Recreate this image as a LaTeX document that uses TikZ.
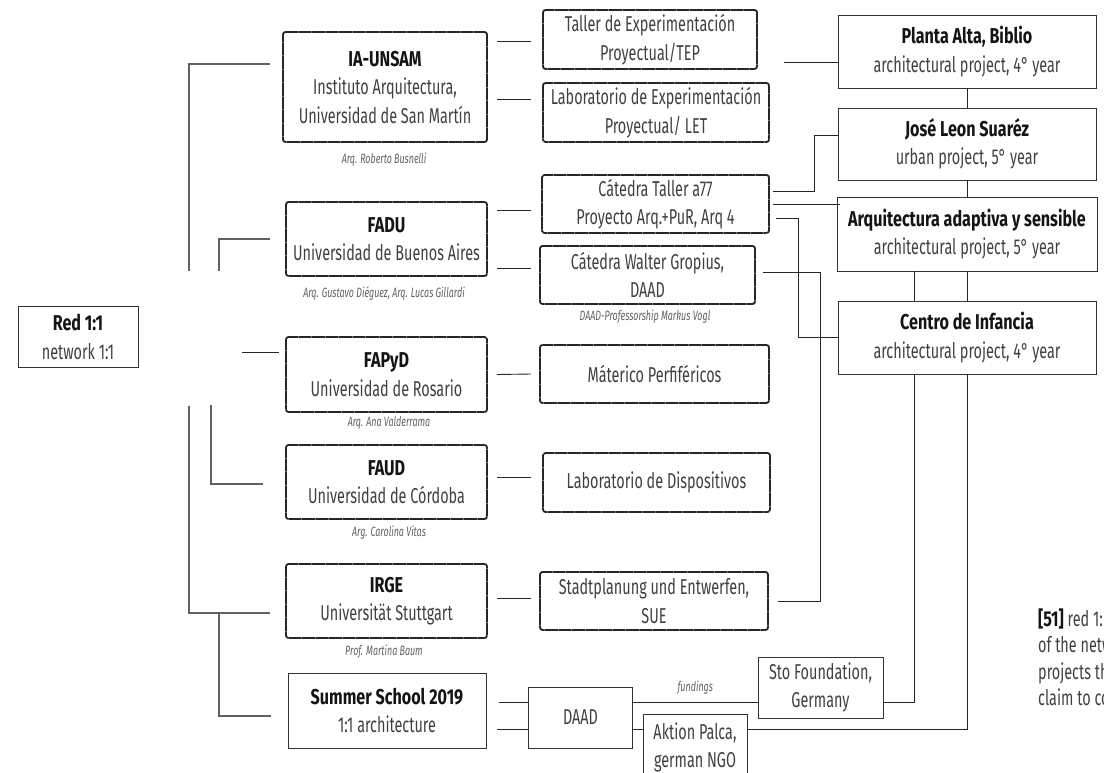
\documentclass[tikz,border=0pt]{standalone}
\usepackage{fontspec}
\setmainfont{Fira Sans}[FakeStretch=0.67]
\newfontfamily\ttlfam{Fira Sans}[FakeStretch=0.75]
\newfontfamily\capfam{Fira Sans}[FakeStretch=0.66]
\usetikzlibrary{calc}
\newcommand{\bodyfont}{\fontsize{21.5}{28.5}\selectfont}
\newcommand{\capfont}{\capfam\fontsize{13.5}{15}\selectfont\itshape}
\newcommand{\ttl}[1]{\textcolor{black!92}{\ttlfam\bfseries #1}}
\begin{document}
\begin{tikzpicture}[x=1pt,y=-1pt,
  plainbox/.style={draw=black!80, line width=0.8pt, inner sep=0pt, align=center, text=black!75, font=\bodyfont},
  texbox/.style={draw=black!85, line width=1.8pt, dash pattern=on 2.4pt off 0.3pt, rounded corners=2.5pt, inner sep=0pt, align=center, text=black!75, font=\bodyfont},
  conn/.style={draw=black!85, line width=0.9pt},
  lconn/.style={draw=black!62, line width=1.1pt},
  captxt/.style={font=\capfont, text=black!62, inner sep=0pt},
  sidetxt/.style={font=\fontsize{21.5}{26.5}\selectfont, text=black!75, inner sep=0pt, align=left}]
\useasboundingbox (0,0) rectangle (1104,772);

% left column
\node[plainbox, minimum width=120pt, minimum height=61pt] (red) at (78,337) {\ttl{Red 1:1}\\network 1:1};

% institutions
\node[texbox, minimum width=204pt, minimum height=110pt] (ia) at (385,87) {\ttl{IA-UNSAM}\\Instituto Arquitectura,\\Universidad de San Martín};
\node[texbox, minimum width=201pt, minimum height=74pt] (fadu) at (386.5,239) {\ttl{FADU}\\Universidad de Buenos Aires};
\node[texbox, minimum width=201pt, minimum height=75pt] (fapyd) at (386.5,374.5) {\ttl{FAPyD}\\Universidad de Rosario};
\node[texbox, minimum width=201pt, minimum height=74pt] (faud) at (386.5,482) {\ttl{FAUD}\\Universidad de Córdoba};
\node[texbox, minimum width=201pt, minimum height=74pt] (irge) at (386.5,601) {\ttl{IRGE}\\Universität Stuttgart};
\node[plainbox, minimum width=198pt, minimum height=75pt] (summer) at (387,710.5) {\ttl{Summer School 2019}\\1:1 architecture};

% captions
\node[captxt] (c1) at (384,160) {Arq. Roberto Busnelli};
\node[captxt] (c2) at (384,294) {Arq. Gustavo Diéguez, Arq. Lucas Gillardi};
\node[captxt] (c3) at (389,423) {Arq. Ana Valderrama};
\node[captxt] (c4) at (389,533) {Arg. Carolina Vitas};
\node[captxt] (c5) at (384,652) {Prof. Martina Baum};
\node[captxt] (c6) at (645,317) {DAAD-Professorship Markus Vogl};

% chairs
\node[texbox, minimum width=214pt, minimum height=59pt] (taller) at (650,39.5) {Taller de Experimentación\\Proyectual/TEP};
\node[texbox, minimum width=226pt, minimum height=59pt] (lab) at (656,112.5) {Laboratorio de Experimentación\\Proyectual/ LET};
\node[texbox, minimum width=227pt, minimum height=58pt] (cat) at (655.5,204) {Cátedra Taller a77\\Proyecto Arq.+PuR, Arq 4};
\node[texbox, minimum width=215pt, minimum height=58pt] (walter) at (647.5,275) {Cátedra Walter Gropius,\\DAAD};
\node[texbox, minimum width=229pt, minimum height=58pt] (mat) at (654.5,374) {Máterico Perfiféricos};
\node[texbox, minimum width=227pt, minimum height=59pt] (labd) at (656.5,482.5) {Laboratorio de Dispositivos};
\node[texbox, minimum width=228pt, minimum height=58pt] (sue) at (654,601) {Stadtplanung und Entwerfen,\\SUE};

% projects
\node[plainbox, minimum width=258pt, minimum height=73pt] (planta) at (967,51.5) {\ttl{Planta Alta, Biblio}\\architectural project, 4° year};
\node[plainbox, minimum width=258pt, minimum height=72pt] (jose) at (967,144) {\ttl{José Leon Suaréz}\\urban project, 5° year};
\node[plainbox, minimum width=260pt, minimum height=74pt] (arq) at (967,234) {\ttl{Arquitectura adaptiva y sensible}\\architectural project, 5° year};
\node[plainbox, minimum width=258pt, minimum height=73pt] (centro) at (967,337.5) {\ttl{Centro de Infancia}\\architectural project, 4° year};

% funding
\node[plainbox, minimum width=125pt, minimum height=61pt] (sto) at (820.5,687.5) {Sto Foundation,\\Germany};
\node[plainbox, minimum width=104pt, minimum height=61pt] (daad) at (580.5,717.5) {DAAD};
\node[plainbox, minimum width=104pt, minimum height=67pt] (akt) at (695,747.5) {Aktion Palca,\\german NGO};

% side text
\node[sidetxt, anchor=west] (side) at (1038,657.5) {\ttl{[51]} red 1:\\of the netw\\projects th\\claim to co};

% left connectors
\coordinate (cA1) at (189,271);
\coordinate (cA2) at (189,406);
\coordinate (cB1) at (219,271);
\coordinate (cB2) at (219,613);
\coordinate (cC1) at (211,405);
\draw[lconn] ([xshift=-12pt,yshift=23pt]ia.west) -| (cA1);
\draw[lconn] ([xshift=-15pt]fadu.west) -| (cB1);
\draw[conn] ([xshift=-6pt,yshift=22.5pt]fapyd.west) -- ++(-37pt,0);
\draw[lconn] ([xshift=-22pt,yshift=-2pt]faud.west) -| (cC1);
\draw[lconn] ([xshift=-15pt,yshift=-12pt]irge.west) -| (cA2);
\draw[lconn] ([xshift=-17pt,yshift=-5.5pt]summer.west) -| (cB2);

% institution -> chair
\draw[conn] ([xshift=9pt,yshift=46pt]ia.east) -- ([xshift=-11pt,yshift=-1.5pt]taller.west);
\draw[conn] ([xshift=9pt,yshift=-12pt]ia.east) -- ([xshift=-11pt,yshift=13.5pt]lab.west);
\draw[conn] ([xshift=9pt,yshift=29pt]fadu.east) -- ([xshift=-10pt,yshift=-6pt]cat.west);
\draw[conn] ([xshift=9pt,yshift=-29pt]fadu.east) -- ([xshift=-8pt,yshift=7pt]walter.west);
\draw[conn] ([xshift=9pt]fapyd.east) -- ([xshift=-8pt]mat.west);
\draw[conn] ([xshift=9pt,yshift=5pt]faud.east) -- ([xshift=-11pt,yshift=5.5pt]labd.west);
\draw[conn] ([xshift=9pt,yshift=3pt]irge.east) -- ([xshift=-8pt,yshift=3pt]sue.west);
\draw[conn] ([xshift=13pt,yshift=8.5pt]summer.east) -- ([yshift=15.5pt]daad.west);
\draw[conn] ([xshift=11pt,yshift=-18.5pt]summer.east) -- ([yshift=-11.5pt]daad.west);

% chair -> project
\draw[conn] ([xshift=26pt,yshift=-22.5pt]taller.east) -- ([yshift=-10.5pt]planta.west);
\draw[conn] (planta.south) -- (jose.north);
\draw[conn] (jose.south) -- (arq.north);
\draw[conn] (centro.north) -- (centro.north |- arq.south);
\draw[conn] ([xshift=-53pt]centro.north) -- ([xshift=-53pt]centro.north |- arq.south);
\draw[conn] ([xshift=3pt,yshift=13pt]cat.east) -- ++(42pt,0) |- ([yshift=9pt]jose.west);
\draw[conn] ([xshift=3pt]cat.east) -- ([xshift=3pt]cat.east -| arq.west);
\draw[conn] ([xshift=6pt,yshift=-14pt]cat.east) -- ++(23pt,0) |- (centro.west);
\draw[conn] ([xshift=7pt,yshift=3pt]walter.east) -- ++(58pt,0) |- ([xshift=9pt]sue.east);

% funding connectors
\draw[conn] ([yshift=15.5pt]daad.east) -- node[captxt, above=7pt, pos=0.5] {fundings} ([yshift=-14.5pt]sto.west);
\draw[conn] ([yshift=-11.5pt]daad.east) -- ([yshift=18.5pt]akt.west);
\draw[conn] ([xshift=-53pt]centro.south) |- ([yshift=-14.5pt]sto.east);
\draw[conn] (centro.south) |- ([yshift=18.5pt]akt.east);
\end{tikzpicture}
\end{document}
